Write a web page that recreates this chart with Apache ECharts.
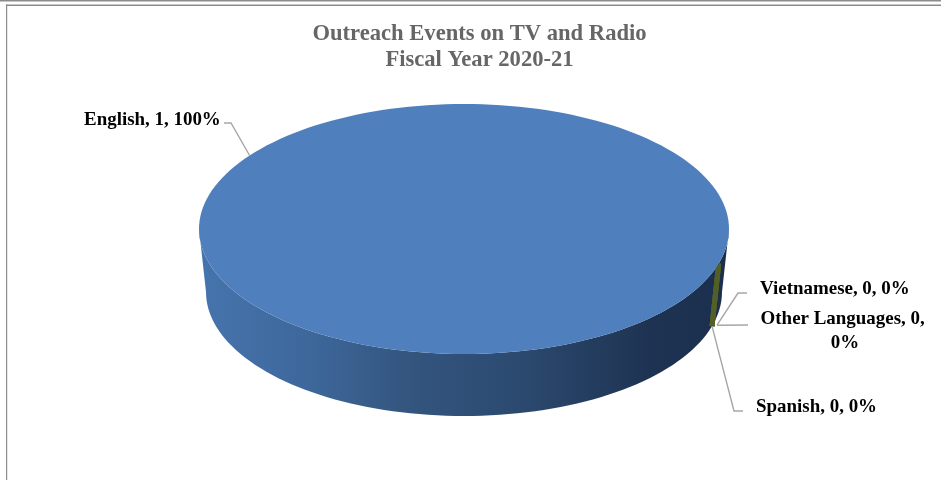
<!DOCTYPE html>
<html>
<head>
<meta charset="utf-8">
<style>html,body{margin:0;padding:0;background:#fff}#chart{width:941px;height:480px}</style>
<script src="https://cdn.jsdelivr.net/npm/echarts@6/dist/echarts.min.js"></script>
</head>
<body>
<div id="chart"></div>
<script>
// Events per language
const languages = ['English', 'Spanish', 'Vietnamese', 'Other Languages'];
const eventCounts = [1, 0, 0, 0];

// Disc geometry: the rim is a tilted ellipse, the base a slightly smaller one
const RIM = { cx: 464, cy: 229, rx: 265, ry: 125 };
const BASE = { cx: 464, cy: 292, rx: 258, ry: 124 };
const START_DEG = 16;
const SERIF = '"Liberation Serif", "Times New Roman", serif';

// Label placement and leader routing, one entry per language
const labelLayout = [
  { x: 84, y: 120, align: 'left', leader: { rimDeg: 216, path: [[231, 123], [224, 123]] } },
  { x: 756, y: 407, align: 'left', leader: { path: [[734, 411], [743, 411]] } },
  { x: 760, y: 289, align: 'left', leader: { dx: 5, dy: -1, path: [[738, 293], [747, 293]] } },
  { x: 845, y: 331, align: 'center', width: 175, leader: { dx: 5, dy: -1, path: [[748, 325]] } }
];

const total = eventCounts.reduce((a, b) => a + b, 0);
const rad = d => d * Math.PI / 180;
const onEllipse = (e, deg) => [e.cx + e.rx * Math.cos(rad(deg)), e.cy + e.ry * Math.sin(rad(deg))];

function arc(e, from, to) {
  const n = Math.max(1, Math.ceil(Math.abs(to - from) / 2));
  const pts = [];
  for (let i = 0; i <= n; i++) pts.push(onEllipse(e, from + (to - from) * i / n));
  return pts;
}

// Parts of [from, to] facing the viewer, i.e. inside 0-180 degrees of each turn
function frontSpans(from, to) {
  const spans = [];
  for (let k = Math.floor(from / 360); k * 360 < to; k++) {
    const a = Math.max(from, k * 360), b = Math.min(to, k * 360 + 180);
    if (b > a) spans.push([a, b]);
  }
  return spans;
}

const wallFill = new echarts.graphic.LinearGradient(199, 0, 729, 0, [
  { offset: 0, color: '#4674ad' },
  { offset: 0.2, color: '#3e689c' },
  { offset: 0.4, color: '#33557e' },
  { offset: 0.6, color: '#2c4a70' },
  { offset: 0.85, color: '#1e3352' },
  { offset: 1, color: '#1b2f4d' }
], true);
const sliceTop = ['#4f80bd', '#c0504d', '#9bbb59', '#8064a2'];
const zeroSeam = '#525f26';
const leaderColor = '#a6a6a6';

function renderSlice(params, api) {
  const i = params.dataIndex;
  const value = api.value(1);
  const before = eventCounts.slice(0, i).reduce((a, b) => a + b, 0);
  const from = START_DEG + before / total * 360;
  const to = from + value / total * 360;
  const children = [];

  if (value > 0) {
    frontSpans(from, to).forEach(([a, b]) => {
      children.push({
        type: 'polygon', z2: 1,
        shape: { points: arc(RIM, a, b).concat(arc(BASE, b, a)) },
        style: { fill: wallFill }
      });
    });
    const full = to - from >= 360;
    const top = arc(RIM, from, to);
    children.push({
      type: 'polygon', z2: 3,
      shape: { points: full ? top : [[RIM.cx, RIM.cy]].concat(top) },
      style: { fill: sliceTop[i] }
    });
  } else {
    // A zero share has no area; it shows only as a seam on the wall
    children.push({
      type: 'polyline', z2: 2,
      shape: { points: [onEllipse(RIM, from), onEllipse(BASE, from)] },
      style: { stroke: zeroSeam, lineWidth: 5, fill: 'none' }
    });
  }

  const layout = labelLayout[i];
  const lead = layout.leader;
  const anchor = lead.rimDeg !== undefined
    ? onEllipse(RIM, lead.rimDeg)
    : (p => [p[0] + (lead.dx || 0), p[1] + (lead.dy || 0)])(onEllipse(BASE, from));
  children.push({
    type: 'polyline', z2: 4,
    shape: { points: [anchor].concat(lead.path) },
    style: { stroke: leaderColor, lineWidth: 1.4, fill: 'none' }
  });

  const pct = Math.round(value / total * 100);
  children.push({
    type: 'text', z2: 5,
    style: {
      x: layout.x, y: layout.y,
      text: languages[i] + ', ' + value + ', ' + pct + '%',
      width: layout.width,
      overflow: layout.width ? 'break' : undefined,
      align: layout.align,
      verticalAlign: 'middle',
      lineHeight: 24,
      fill: '#000',
      font: 'bold 18.95px ' + SERIF
    }
  });
  return { type: 'group', children };
}

const chart = echarts.init(document.getElementById('chart'), null, { renderer: 'canvas' });
chart.setOption({
  animation: false,
  backgroundColor: '#fff',
  title: {
    text: 'Outreach Events on TV and Radio\nFiscal Year 2020-21',
    left: 474.5,
    top: 16,
    textAlign: 'center',
    textStyle: {
      fontFamily: SERIF, fontWeight: 'bold', fontSize: 22.6,
      lineHeight: 26, color: '#666666'
    }
  },
  graphic: [
    { type: 'rect', shape: { x: 0, y: 0, width: 941, height: 1.5 }, style: { fill: '#8c8c8c' }, silent: true },
    { type: 'rect', shape: { x: 6, y: 4.5, width: 935, height: 1.5 }, style: { fill: '#8c8c8c' }, silent: true },
    { type: 'rect', shape: { x: 6, y: 4.5, width: 1.2, height: 476 }, style: { fill: '#8c8c8c' }, silent: true }
  ],
  series: [{
    type: 'custom',
    coordinateSystem: 'none',
    renderItem: renderSlice,
    data: languages.map((name, i) => [name, eventCounts[i]]),
    encode: { value: 1 }
  }]
});
</script>
</body>
</html>
